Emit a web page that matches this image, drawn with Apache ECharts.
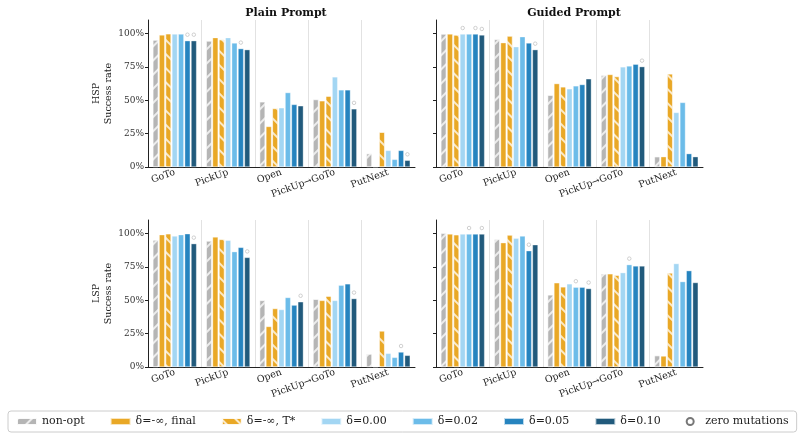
<!DOCTYPE html>
<html>
<head>
<meta charset="utf-8">
<script src="https://cdn.jsdelivr.net/npm/echarts@6/dist/echarts.min.js"></script>
<style>
  html, body { margin: 0; padding: 0; background: #fff; }
  #main { width: 802px; height: 440px; }
</style>
</head>
<body>
<div id="main"></div>
<script>
const categories = ['GoTo', 'PickUp', 'Open', 'PickUp→GoTo', 'PutNext'];
const seriesNames = ['non-opt', 'δ=-∞, final', 'δ=-∞, T*', 'δ=0.00', 'δ=0.02', 'δ=0.05', 'δ=0.10'];
const yTicks = [0, 25, 50, 75, 100];

// success rate (%) per series (rows) and task (columns)
const hspPlain = [
  [95, 94.3, 48.8, 50.5, 10],
  [98.8, 96.8, 30.3, 49.5, 0],
  [99.7, 95.3, 43.8, 53, 26],
  [99.5, 96.8, 44.3, 67.4, 12.4],
  [99.5, 92.8, 55.7, 57.7, 5.7],
  [94.5, 88.6, 46.8, 57.7, 12.4],
  [94.5, 87.8, 45.8, 43.5, 5]
];
const hspGuided = [
  [99.5, 95.5, 53.7, 68.7, 7.7],
  [99.5, 93, 62.4, 69.2, 7.7],
  [98.8, 98, 60, 67.7, 69.7],
  [99.5, 90, 58.5, 74.9, 40.8],
  [99.5, 97.5, 60.7, 75.6, 48.3],
  [99.5, 92.8, 61.7, 76.9, 10],
  [98.8, 87.8, 66, 75.1, 7.7]
];
const lspPlain = [
  [95, 94.3, 49.8, 50.7, 9.7],
  [99, 97.3, 30.3, 49.8, 0],
  [99.7, 95.5, 43.8, 53, 27],
  [98, 94.8, 43, 49.8, 10.2],
  [99, 86.3, 52, 61.2, 7.2],
  [99.7, 89.5, 46.3, 62.2, 11.2],
  [92.3, 82, 48.8, 51.2, 8.7]
];
const lspGuided = [
  [100, 95.5, 54, 69.7, 8.5],
  [99.5, 93, 63, 69.7, 8.2],
  [99, 98.8, 60, 68.7, 70.4],
  [99.5, 96.3, 62.2, 70.6, 77.4],
  [99.5, 98, 59.7, 76.6, 63.9],
  [99.5, 87, 59.7, 75.6, 72.1],
  [99.5, 91.5, 58.7, 75.6, 63.2]
];

// zero-mutation runs: [series index, task index]
const hspPlainZero = [[5, 0], [6, 0], [5, 1], [6, 3], [6, 4]];
const hspGuidedZero = [[3, 0], [5, 0], [6, 0], [6, 1], [6, 3]];
const lspPlainZero = [[6, 0], [6, 1], [6, 2], [6, 3], [5, 4]];
const lspGuidedZero = [[4, 0], [6, 0], [5, 1], [4, 2], [6, 2], [4, 3]];

const colors = ['#b5b5b5', '#e9a826', '#e9a826', '#a3d6f3', '#6cbce9', '#2684bf', '#215a7c'];
const font = 'DejaVu Serif';

const hatchFwd = { symbol: 'rect', symbolSize: 1, dashArrayX: [1, 0], dashArrayY: [1.4, 7.5], rotation: -Math.PI / 4, color: 'rgba(255,255,255,0.75)' };
const hatchBack = { symbol: 'rect', symbolSize: 1, dashArrayX: [1, 0], dashArrayY: [1.4, 7.5], rotation: Math.PI / 4, color: 'rgba(255,255,255,0.75)' };
const decals = [hatchFwd, null, hatchBack, null, null, null, null];

const panels = [
  { data: hspPlain, zero: hspPlainZero, left: 148, top: 20, row: 'HSP', showY: true },
  { data: hspGuided, zero: hspGuidedZero, left: 436, top: 20, row: 'HSP', showY: false },
  { data: lspPlain, zero: lspPlainZero, left: 148, top: 220, row: 'LSP', showY: true },
  { data: lspGuided, zero: lspGuidedZero, left: 436, top: 220, row: 'LSP', showY: false }
];

const myChart = echarts.init(document.querySelector('#main'));

const grid = panels.map(p => ({ left: p.left, top: p.top, width: 267, height: 147 }));

const xAxis = panels.map((p, i) => ({
  gridIndex: i,
  type: 'category',
  data: categories,
  axisLine: { lineStyle: { color: '#222', width: 1 } },
  axisTick: { alignWithLabel: true, length: 3, lineStyle: { color: '#222' } },
  axisLabel: { interval: 0, rotate: 20, fontSize: 9.5, margin: 5, color: '#222', fontFamily: font },
  splitLine: { show: true, showMinLine: false, showMaxLine: false, lineStyle: { color: '#e2e2e2', width: 1 } }
}));

const yAxis = panels.map((p, i) => ({
  gridIndex: i,
  type: 'value',
  min: 0,
  max: 110,
  interval: 25,
  name: p.showY ? p.row + '\nSuccess rate' : '',
  nameLocation: 'middle',
  nameGap: 32,
  nameTextStyle: { fontSize: 9.5, lineHeight: 12, color: '#222', fontFamily: font },
  axisLine: { show: true, lineStyle: { color: '#222', width: 1 } },
  axisTick: { show: true, length: 3, customValues: yTicks, lineStyle: { color: '#222' } },
  axisLabel: { show: p.showY, customValues: yTicks, formatter: '{value}%', fontSize: 9, margin: 4, color: '#333', fontFamily: font },
  splitLine: { show: false }
}));

const series = [];
panels.forEach((p, i) => {
  seriesNames.forEach((name, s) => {
    series.push({
      type: 'bar',
      name: name,
      xAxisIndex: i,
      yAxisIndex: i,
      data: p.data[s],
      barGap: '15%',
      barCategoryGap: '18%',
      itemStyle: {
        color: colors[s],
        borderColor: 'rgba(255,255,255,0.7)',
        borderWidth: 0.5,
        decal: decals[s] || undefined
      },
      markPoint: {
        silent: true,
        symbol: 'circle',
        symbolSize: 3.5,
        label: { show: false },
        itemStyle: { color: '#fff', borderColor: '#c4c4c4', borderWidth: 0.8 },
        data: p.zero.filter(z => z[0] === s).map(z => ({ coord: [z[1], p.data[s][z[1]] + 4.5] }))
      }
    });
  });
});
// legend-only entry for the zero-mutation markers
series.push({
  type: 'scatter',
  name: 'zero mutations',
  xAxisIndex: 0,
  yAxisIndex: 0,
  symbol: 'emptyCircle',
  itemStyle: { color: '#555', borderColor: '#555', borderWidth: 2 },
  data: []
});

const option = {
  animation: false,
  title: [
    { text: 'Plain Prompt', left: 281, top: 3, textAlign: 'center', textStyle: { fontSize: 11, fontWeight: 'bold', fontFamily: font, color: '#111' } },
    { text: 'Guided Prompt', left: 569, top: 3, textAlign: 'center', textStyle: { fontSize: 11, fontWeight: 'bold', fontFamily: font, color: '#111' } }
  ],
  grid: grid,
  xAxis: xAxis,
  yAxis: yAxis,
  legend: {
    left: 8,
    top: 411,
    selectedMode: false,
    itemWidth: 20,
    itemHeight: 7,
    itemGap: 25,
    padding: [5, 8],
    borderColor: '#ccc',
    borderWidth: 1,
    borderRadius: 3,
    textStyle: { fontSize: 11, color: '#222', fontFamily: font },
    data: seriesNames.map(n => ({ name: n, icon: 'rect' })).concat([
      { name: 'zero mutations', icon: 'circle', itemWidth: 10, itemStyle: { color: '#fff', borderColor: '#555', borderWidth: 2 } }
    ])
  },
  series: series
};

option && myChart.setOption(option);
</script>
</body>
</html>
